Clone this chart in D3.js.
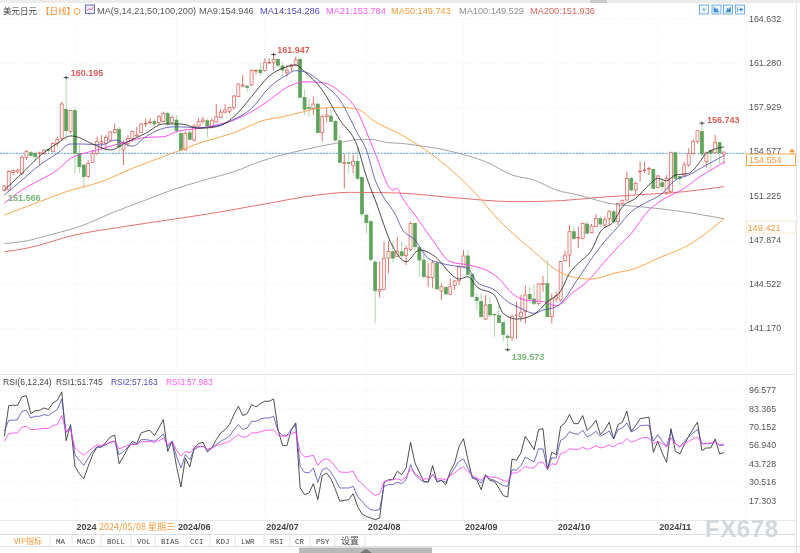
<!DOCTYPE html>
<html>
<head>
<meta charset="utf-8">
<script src="https://cdn.jsdelivr.net/npm/d3@7/dist/d3.min.js"></script>
<style>
  html, body { margin: 0; padding: 0; background: #fff; }
  svg { display: block; font-family: "Liberation Sans", Arial, sans-serif; filter: blur(0.3px); }
  .cjk { font-family: "Noto Sans CJK SC", sans-serif; }
</style>
</head>
<body>
<svg id="chart" width="800" height="553"></svg>
<script>
// daily candles, one entry per trading day
var opens = [151.63,151.68,152.99,153.04,152.89,154.15,154.50,154.45,154.48,154.45,154.76,154.58,155.21,155.59,157.79,156.10,157.69,154.45,153.57,152.69,153.75,154.45,155.21,155.21,155.46,156.02,156.27,154.71,155.21,155.59,155.77,156.02,156.68,156.77,156.86,156.78,156.85,157.48,156.78,156.98,155.97,154.71,156.02,155.46,156.52,156.85,156.93,156.47,156.83,157.18,157.58,157.64,157.94,158.75,159.55,159.55,159.63,160.69,160.77,160.72,161.30,161.32,161.58,161.07,160.56,161.02,161.15,161.58,158.70,157.94,157.86,158.19,156.02,157.23,157.28,156.88,155.41,153.70,153.75,153.55,153.85,152.64,149.78,149.28,146.22,144.02,144.15,146.52,147.00,146.63,147.00,146.70,147.18,149.15,147.33,146.37,145.06,145.06,146.12,144.02,144.28,143.77,144.43,144.80,145.87,146.68,145.29,143.55,143.22,141.90,143.01,142.26,142.16,141.63,140.61,140.49,142.16,142.08,142.46,143.77,143.42,143.09,144.53,144.61,142.08,143.42,143.34,146.32,146.75,148.52,148.04,148.01,149.10,148.44,148.90,149.53,149.03,149.53,150.03,149.28,150.66,150.92,152.56,151.68,153.06,153.14,153.27,153.24,151.88,152.23,151.47,151.55,154.50,152.69,152.81,153.57,154.45,155.34,156.10,153.82,154.66,154.50,155.26,154.40];
var highs = [152.05,153.19,153.24,153.29,154.33,154.71,154.66,154.58,154.58,154.78,154.83,155.28,155.71,158.37,160.195,157.74,157.94,155.09,153.70,153.95,154.71,155.71,155.84,155.84,156.17,156.73,156.47,155.46,155.84,156.17,156.47,156.73,157.11,157.11,157.04,157.36,157.61,157.61,157.36,157.36,156.17,156.10,156.22,156.67,157.11,157.23,157.11,157.11,158.19,157.86,158.19,157.99,158.87,159.76,160.39,159.63,160.82,160.82,161.32,161.65,161.65,161.947,161.65,161.32,161.15,161.22,161.78,161.73,159.30,158.62,158.75,158.24,157.36,157.86,157.86,156.98,155.84,154.45,154.58,154.33,154.96,152.69,149.91,149.40,146.37,146.25,147.76,147.76,147.76,148.14,147.80,147.46,149.28,149.23,147.38,147.26,146.12,146.37,146.25,144.60,144.40,144.98,144.86,146.00,147.13,147.13,145.36,143.85,143.85,143.72,143.60,142.33,142.96,141.70,140.74,142.26,143.22,143.72,144.43,144.35,144.53,144.61,145.16,146.37,143.85,143.97,146.30,147.08,149.02,148.90,148.90,149.20,149.28,149.10,149.86,149.66,149.66,150.16,150.16,150.72,150.97,153.07,152.69,152.31,153.82,153.82,153.44,153.32,152.81,152.56,152.81,154.58,154.58,152.81,153.82,154.83,155.51,156.22,156.743,154.58,154.76,155.84,155.34,154.58];
var lows = [151.57,151.63,152.81,152.94,152.84,153.95,154.15,153.95,153.57,154.35,154.50,154.53,154.96,155.46,155.46,155.97,152.94,152.94,151.80,152.56,153.70,154.33,154.71,154.71,155.34,155.97,154.45,153.57,154.96,155.34,155.71,155.97,156.47,156.68,156.50,156.60,156.78,156.52,156.68,155.97,154.66,154.66,155.46,155.34,156.42,156.72,155.67,156.35,156.78,157.11,157.48,157.48,157.74,158.70,159.45,159.12,159.55,160.46,160.36,160.64,161.22,160.72,161.02,160.31,160.26,160.64,161.07,158.62,157.36,157.23,157.36,155.97,155.34,156.85,156.78,155.34,153.70,151.80,152.94,152.94,152.43,149.66,148.39,146.24,141.57,143.54,144.10,145.36,146.17,146.60,146.40,146.00,147.08,147.00,145.11,144.98,144.35,144.23,144.17,143.34,143.72,143.72,144.10,144.48,145.86,145.24,143.59,142.58,141.95,141.83,142.08,140.56,141.57,140.19,139.573,140.24,140.39,141.70,141.57,143.09,142.96,142.96,143.97,142.00,141.57,143.17,143.22,146.24,145.82,147.89,147.26,147.94,148.34,148.39,148.85,148.90,148.90,149.03,149.15,149.03,150.54,150.87,151.55,151.37,152.31,152.94,152.81,151.73,151.80,151.55,151.30,151.42,152.43,152.05,152.69,153.44,154.33,155.21,154.33,153.38,153.25,154.45,153.65,153.63];
var closes = [151.98,153.07,153.14,153.19,154.15,154.58,154.30,154.20,154.50,154.71,154.66,155.21,155.51,158.19,156.17,157.69,154.45,153.44,152.69,153.70,154.45,155.34,155.34,155.66,156.07,156.27,154.96,155.21,155.59,156.10,155.84,156.68,156.73,156.83,156.68,157.23,157.48,156.68,157.18,156.17,154.71,155.97,155.51,156.52,156.85,156.98,156.52,156.93,157.23,157.58,157.74,157.94,158.80,159.71,159.63,159.45,160.72,160.74,160.56,161.32,161.35,161.58,161.12,160.77,160.72,161.15,161.53,158.70,157.79,157.84,158.19,156.02,157.23,157.36,156.88,155.46,153.75,153.75,153.70,153.85,152.56,149.86,149.20,146.42,144.05,144.15,146.50,147.03,146.52,147.05,146.70,147.26,149.15,147.38,146.37,145.11,145.11,146.17,144.18,144.35,143.80,144.35,144.78,145.87,146.68,145.29,143.60,143.29,142.08,142.96,142.21,142.21,141.63,140.74,140.49,142.08,142.21,142.41,143.72,143.42,143.09,144.56,144.58,142.08,143.42,143.67,146.25,146.75,148.52,148.01,148.09,149.15,148.40,148.95,149.53,149.10,149.45,150.03,149.28,150.66,150.87,152.56,151.68,152.18,153.11,153.19,153.32,151.80,152.74,151.93,152.56,154.50,152.56,152.56,153.57,154.45,155.34,156.17,154.40,154.50,154.45,155.26,154.50,154.554];

// moving averages read at the trading-day indexes next to them
var ma9Days = [0,4,8,12,15,16,20,24,28,32,36,40,44,48,52,56,60,64,66,68,72,76,80,82,84,88,91,94,98,101,103,105,107,111,113,116,120,123,126,128,130,133,135,138,140,143,146,148,150,152,155,157,159,163];
var ma9 = [151.68,152.94,154.25,155.21,155.77,155.74,155.16,154.71,155.34,155.97,156.68,156.68,156.35,156.47,157.23,158.75,160.31,161.02,161.15,160.64,159.25,156.98,154.96,152.69,150.92,147.38,146.25,147.13,146.50,145.36,144.93,145.11,144.35,143.72,142.33,141.90,142.26,143.22,144.02,145.36,146.12,147.13,148.52,149.28,150.41,151.05,152.06,152.56,152.38,152.81,152.94,153.57,154.45,154.946];
var ma14Days = [0,4,8,12,15,18,22,25,29,32,36,39,44,48,52,56,60,64,66,68,72,76,80,82,84,85,89,90,93,96,99,103,105,107,111,114,117,120,122,125,127,129,135,139,142,145,149,152,155,159,163];
var ma14 = [151.30,152.43,153.57,154.45,155.16,155.16,155.09,155.46,155.00,155.71,156.35,156.47,156.40,156.52,157.03,157.86,159.45,160.39,160.72,160.64,159.76,158.49,155.97,154.71,152.43,151.68,149.53,148.77,147.89,146.50,146.12,145.87,145.74,144.73,144.10,143.22,142.71,142.33,142.58,142.84,143.47,144.48,147.38,148.90,150.03,150.66,151.42,152.43,152.81,153.57,154.286];
var ma21Days = [0,4,8,12,15,18,21,25,28,32,36,39,44,48,52,56,60,64,68,72,76,80,82,84,88,89,90,93,97,101,105,109,112,115,118,122,125,129,132,135,139,142,146,149,154,157,160,163];
var ma21 = [150.67,151.68,152.43,153.19,154.07,154.45,154.71,155.09,155.34,155.66,155.71,156.10,156.35,156.60,156.98,157.61,158.49,159.45,159.88,159.81,159.13,157.61,156.10,154.45,151.68,151.80,151.17,149.78,147.89,146.25,146.00,145.62,144.98,143.85,143.34,143.22,142.91,143.97,144.73,145.87,147.38,148.39,150.16,150.92,151.80,152.56,153.19,153.784];
var ma50Days = [0,4,8,14,22,29,39,44,52,59,63,67,71,76,80,84,90,97,106,112,120,125,129,133,138,143,148,155,163];
var ma50 = [149.78,150.29,150.79,151.55,152.31,153.32,154.58,155.21,156.02,156.98,157.23,157.54,157.86,157.94,157.79,156.85,155.84,154.33,151.68,149.40,147.00,145.62,145.06,144.93,145.36,145.74,146.50,147.51,149.50];
var ma100Days = [0,4,11,17,25,32,38,44,52,59,67,75,81,83,87,90,94,98,103,109,115,120,125,130,137,144,151,163];
var ma100 = [147.63,147.76,148.34,148.90,150.03,150.92,151.68,152.31,153.07,153.95,154.66,155.21,155.51,155.51,155.26,155.21,155.03,154.83,154.45,153.82,152.81,152.43,151.68,151.30,150.67,150.41,150.16,149.50];
var ma200Days = [0,5,16,27,38,47,59,71,78,89,101,116,126,134,143,154,163];
var ma200 = [147.00,147.26,148.27,148.90,149.45,149.91,150.62,151.30,151.50,151.45,151.12,150.79,150.87,151.10,151.30,151.55,151.936];

// RSI, one value per trading day
var rsi1 = [63.5,85.5,85.8,85.8,91.8,92.7,79.8,81.9,82.2,83.9,82.7,87.5,89.4,95.4,60.4,71.9,41.9,36.6,33.0,41.9,50.3,55.8,55.8,59.2,63.0,64.4,43.8,49.1,55.1,59.9,58.2,65.9,67.1,67.8,64.0,69.5,75.5,52.7,59.9,41.9,27.0,47.9,41.4,55.1,58.2,59.2,52.2,55.1,61.1,65.9,68.3,71.9,79.1,85.1,78.4,79.8,86.3,84.6,87.0,88.7,88.7,90.3,68.3,56.8,56.8,68.3,73.1,26.3,21.5,22.7,29.4,17.9,35.2,37.1,32.8,25.1,16.7,17.4,17.9,22.2,13.1,7.6,5.9,4.7,3.5,4.7,29.9,32.3,32.3,38.3,35.9,40.7,59.2,44.3,37.6,31.1,30.6,42.4,30.6,31.8,28.7,38.3,44.3,56.3,61.8,46.7,33.5,32.3,25.1,35.9,31.6,31.1,26.3,20.8,19.8,47.2,46.2,51.5,63.5,58.7,53.9,68.3,69.0,39.5,52.0,50.3,70.7,73.1,79.1,72.6,72.6,78.4,67.8,70.7,75.0,64.7,68.3,73.6,61.6,71.9,73.6,81.5,67.1,71.2,76.2,76.7,77.2,52.0,59.9,51.5,44.8,69.0,52.7,50.8,57.5,63.5,68.8,73.6,53.2,55.1,55.1,61.6,50.8,51.745];
var rsi2 = [67.1,75.0,75.0,75.5,81.5,82.2,76.7,77.9,77.9,79.1,78.4,80.8,82.7,90.3,66.4,70.7,50.3,46.2,42.6,47.9,52.7,55.8,55.8,57.5,59.2,59.9,50.3,52.7,55.8,58.2,57.5,61.1,61.1,60.6,59.9,62.3,65.2,55.8,59.9,49.1,40.7,50.3,46.7,53.9,55.8,56.3,53.4,55.1,57.5,59.9,61.6,63.5,68.3,71.9,68.3,69.5,74.3,74.3,75.9,76.7,76.7,77.9,67.1,64.2,64.2,68.3,71.9,41.9,37.6,37.1,40.7,30.4,39.5,40.7,37.6,32.3,26.3,26.3,26.3,27.5,20.3,16.7,13.1,10.7,10.2,10.7,27.5,28.7,28.7,30.4,29.4,32.3,43.1,35.9,32.8,30.6,30.6,36.4,31.1,31.8,30.4,35.9,40.7,45.5,47.2,40.7,34.2,32.8,29.9,34.7,32.8,31.8,29.9,28.0,27.5,39.5,39.0,42.4,48.6,46.7,45.3,54.4,54.4,40.0,47.9,47.9,60.6,62.3,66.8,65.4,64.9,67.8,63.0,64.7,67.1,63.5,65.2,67.3,61.6,68.3,69.5,73.1,66.6,68.3,71.2,71.4,71.4,59.9,64.7,59.9,56.3,67.1,58.2,55.8,59.9,63.0,65.9,68.3,58.2,58.2,58.2,59.9,56.8,57.163];
var rsi3 = [59.9,65.4,65.9,65.9,70.2,70.7,68.3,68.5,68.8,69.2,69.0,71.2,71.9,78.4,66.4,68.3,55.1,52.2,49.8,52.7,55.1,57.3,57.0,58.0,59.2,60.1,54.4,55.8,57.0,57.7,57.7,59.6,59.6,59.6,59.2,60.4,62.0,57.5,59.9,53.4,49.1,52.7,51.5,55.1,56.3,56.3,54.4,55.1,56.8,57.7,58.7,59.9,62.3,64.7,62.8,63.3,65.9,65.9,66.8,67.8,67.8,68.3,64.2,63.5,63.7,65.4,66.4,52.0,48.6,49.1,49.8,42.6,46.2,47.4,45.5,41.4,37.8,37.6,37.6,38.3,32.3,29.4,26.3,23.2,21.0,22.2,31.1,31.6,32.3,33.0,31.8,34.2,40.0,36.6,34.2,32.8,32.8,35.9,32.8,33.0,32.3,35.2,37.1,40.0,41.4,38.3,35.2,33.5,31.8,35.2,34.2,34.2,33.3,31.8,30.9,37.1,37.1,39.0,41.9,40.7,40.7,44.8,44.8,40.0,43.8,43.1,51.0,52.0,54.6,54.1,54.1,55.6,54.1,55.1,56.8,55.1,55.8,57.3,55.8,58.2,58.7,61.8,59.2,60.4,61.8,62.8,62.3,58.2,59.9,58.2,55.8,62.3,58.2,55.8,58.2,59.9,61.6,63.0,58.2,58.2,58.7,59.4,57.3,57.983];

var priceTicks = [164.632,161.280,157.929,154.577,151.225,147.874,144.522,141.170];
var rsiTicks = [96.577,83.365,70.152,56.940,43.728,30.516,17.303];
var lastPriceLine = 154.455;
var monthDays = [16,39,59,82,104,125,148];
var monthLabels = ["2024","2024/06","2024/07","2024/08","2024/09","2024/10","2024/11"];
var tabLabels = ["VIP指标","MA","MACD","BOLL","VOL","BIAS","CCI","KDJ","LWR","RSI","CR","PSY","设置"];
var tabStarts = [14,56,77,107,137,161,190,216,241,270,295,316,341];
var tabEdges = [50,72,101,131,155,186,210,235,264,290,310,335,365];

var RED = "#d9645c", GREEN = "#5fa35a", PALE_GREEN = "#a9d0a5";

var svg = d3.select("#chart");
var x = d3.scaleLinear().domain([0, opens.length - 1]).range([4.33, 724]);
var y = d3.scaleLinear().domain([164.632, 141.17]).range([19, 328.7]);
var yRsi = d3.scaleLinear().domain([96.577, 17.303]).range([390.3, 500.5]);

// top strip
svg.append("rect").attr("x", 0).attr("y", 0).attr("width", 800).attr("height", 3).attr("fill", "#ececec");
svg.append("rect").attr("x", 590).attr("y", 0).attr("width", 17).attr("height", 3).attr("fill", "#c9c9c9");

// grid
function hGrid(ticks, scale) {
  svg.append("g").selectAll("line").data(ticks).enter().append("line")
    .attr("x1", 0).attr("x2", 746)
    .attr("y1", function(d) { return scale(d); })
    .attr("y2", function(d) { return scale(d); })
    .attr("stroke", "#e8e8e8").attr("stroke-width", 0.7).attr("stroke-dasharray", "1,2");
}
hGrid(priceTicks, y);
hGrid(rsiTicks, yRsi);

svg.append("g").selectAll("line").data(monthDays).enter().append("line")
  .attr("x1", function(d) { return x(d); })
  .attr("x2", function(d) { return x(d); })
  .attr("y1", 16).attr("y2", 520)
  .attr("stroke", "#e8e8e8").attr("stroke-width", 0.7).attr("stroke-dasharray", "1,2");

svg.append("line").attr("x1", 746).attr("x2", 746).attr("y1", 16).attr("y2", 520)
  .attr("stroke", "#dddddd").attr("stroke-width", 0.7).attr("stroke-dasharray", "1,2");
svg.append("line").attr("x1", 0).attr("x2", 796).attr("y1", 374.5).attr("y2", 374.5)
  .attr("stroke", "#e3e8ee").attr("stroke-width", 1);
svg.append("line").attr("x1", 0).attr("x2", 796).attr("y1", 520.5).attr("y2", 520.5)
  .attr("stroke", "#e3e8ee").attr("stroke-width", 1);
svg.append("line").attr("x1", 796.5).attr("x2", 796.5).attr("y1", 3).attr("y2", 553)
  .attr("stroke", "#e3e8ee").attr("stroke-width", 1);

// last price line
svg.append("line").attr("x1", 0).attr("x2", 746).attr("y1", y(lastPriceLine)).attr("y2", y(lastPriceLine))
  .attr("stroke", "#3f94ea").attr("stroke-width", 0.9).attr("stroke-dasharray", "2,1.2");

// candles
var days = d3.range(opens.length);
var candles = svg.append("g").selectAll("g").data(days).enter().append("g");

candles.append("line")
  .attr("x1", function(i) { return x(i); })
  .attr("x2", function(i) { return x(i); })
  .attr("y1", function(i) { return y(highs[i]); })
  .attr("y2", function(i) { return y(lows[i]); })
  .attr("stroke", function(i) { return closes[i] >= opens[i] ? RED : PALE_GREEN; })
  .attr("stroke-width", 0.9);

candles.append("rect")
  .attr("x", function(i) { return x(i) - 1.5; })
  .attr("width", 3)
  .attr("y", function(i) { return y(Math.max(opens[i], closes[i])); })
  .attr("height", function(i) { return Math.max(0.6, Math.abs(y(opens[i]) - y(closes[i]))); })
  .attr("fill", function(i) { return closes[i] >= opens[i] ? "#fdf3f2" : GREEN; })
  .attr("stroke", function(i) { return closes[i] >= opens[i] ? RED : GREEN; })
  .attr("stroke-width", 0.7);

// moving averages
function drawLine(days, values, color, width) {
  var path = d3.line()
    .x(function(d, n) { return x(days[n]); })
    .y(function(d) { return y(d); })
    .curve(d3.curveMonotoneX);
  svg.append("path").attr("d", path(values))
    .attr("fill", "none").attr("stroke", color).attr("stroke-width", width);
}
drawLine(ma200Days, ma200, "#e0625c", 0.9);
drawLine(ma100Days, ma100, "#9a9a9a", 0.9);
drawLine(ma50Days, ma50, "#ff9c3a", 0.9);
drawLine(ma21Days, ma21, "#ff3df0", 0.9);
drawLine(ma14Days, ma14, "#4747b5", 0.8);
drawLine(ma9Days, ma9, "#222222", 0.8);

// RSI lines
function drawRsi(values, color) {
  var path = d3.line()
    .x(function(d, n) { return x(n); })
    .y(function(d) { return yRsi(d); });
  svg.append("path").attr("d", path(values))
    .attr("fill", "none").attr("stroke", color).attr("stroke-width", 0.8);
}
drawRsi(rsi1, "#222222");
drawRsi(rsi2, "#4a4ab8");
drawRsi(rsi3, "#ff3df0");

// axes
function styleAxis(g, color, size, weight) {
  g.select(".domain").remove();
  g.selectAll(".tick line").remove();
  g.selectAll("text").attr("fill", color).style("font-size", size + "px")
    .style("font-weight", weight || "normal")
    .style("font-family", "\"Liberation Sans\", Arial, sans-serif");
}
var priceAxis = d3.axisRight(y).tickValues(priceTicks).tickSize(0).tickPadding(0).tickFormat(d3.format(".3f"));
svg.append("g").attr("transform", "translate(749,-0.7)").call(priceAxis).call(styleAxis, "#555", 8.9);
var rsiAxis = d3.axisRight(yRsi).tickValues(rsiTicks).tickSize(0).tickPadding(0).tickFormat(d3.format(".3f"));
svg.append("g").attr("transform", "translate(749,-0.3)").call(rsiAxis).call(styleAxis, "#555", 8.9);

var timeAxis = d3.axisBottom(x).tickValues(monthDays).tickSize(0)
  .tickFormat(function(d, n) { return monthLabels[n]; });
svg.append("g").attr("transform", "translate(0,521)").call(timeAxis).call(styleAxis, "#444", 9, "bold")
  .selectAll("text").attr("text-anchor", "start").attr("dx", 1).attr("y", 2.2).attr("dy", "0.71em");

// text helper
function label(px, py, str, color, opts) {
  opts = opts || {};
  var t = svg.append("text").attr("x", px).attr("y", py).text(str).attr("fill", color)
    .style("font-size", (opts.size || 9.2) + "px");
  if (opts.bold) t.style("font-weight", "bold");
  if (opts.cjk) t.attr("class", "cjk");
  if (opts.mono) t.style("font-family", "\"Liberation Mono\", monospace");
  return t;
}

// crosshair date
svg.append("rect").attr("x", 97).attr("y", 521).attr("width", 80).attr("height", 11).attr("fill", "#fff");
label(99, 529.5, "2024/05/08 星期三", "#f59a3c", { size: 9, cjk: true });

// legends
label(3, 14, "美元日元", "#444", { size: 8.5, cjk: true });
label(41, 14, "【日线】", "#f08c2e", { size: 8.5, cjk: true });
svg.append("circle").attr("cx", 77).attr("cy", 11.5).attr("r", 3).attr("fill", "#fff").attr("stroke", "#f0a040").attr("stroke-width", 1);
svg.append("rect").attr("x", 85.5).attr("y", 5).attr("width", 9).attr("height", 8.5).attr("fill", "#eef").attr("stroke", "#5560b0").attr("stroke-width", 0.9);
svg.append("path").attr("d", d3.line()([[87, 11], [89, 8.5], [91, 10], [93.5, 7]])).attr("fill", "none").attr("stroke", "#e0508a").attr("stroke-width", 0.9);
label(97, 14, "MA(9,14,21,50,100,200)", "#555");
label(199, 14, "MA9:154.946", "#555");
label(260, 14, "MA14:154.286", "#4a4ab8");
label(326, 14, "MA21:153.784", "#ff5cf0");
label(391, 14, "MA50:149.743", "#ff9c3a");
label(459, 14, "MA100:149.529", "#909090");
label(530, 14, "MA200:151.936", "#e0625c");
label(3, 385, "RSI(6,12,24)", "#444", { size: 8.6 });
label(56, 385, "RSI1:51.745", "#444", { size: 8.4 });
label(111, 385, "RSI2:57.163", "#4a4ab8", { size: 8.4 });
label(166, 385, "RSI3:57.983", "#ff5cf0", { size: 8.4 });

// zoom buttons
var buttonIcons = ["M3,4.5h3M4.5,3v3", "M2,2v5h5M5.5,3.5l-2,1.5l2,1.5z", "M7,2v5h-5M3.5,3.5l2,1.5l-2,1.5z", "M2,2v5M3,4.5h2.5M5,3l2.2,1.5l-2.2,1.5z"];
var buttons = svg.append("g").selectAll("g").data([699.5, 712, 723.5, 735.5]).enter().append("g")
  .attr("transform", function(d) { return "translate(" + d + ",5)"; });
buttons.append("rect").attr("width", 9).attr("height", 9)
  .attr("fill", "#eef6fc").attr("stroke", "#4f9ee8").attr("stroke-width", 0.8);
buttons.append("path").attr("d", function(d, n) { return buttonIcons[n]; })
  .attr("fill", "#3f8fd8").attr("stroke", "#3f8fd8").attr("stroke-width", 0.7);

// high and low notes
function extreme(day, value, dx, dy, color) {
  svg.append("path")
    .attr("d", "M" + (x(day) - 2.5) + "," + y(value) + "H" + (x(day) + 2.5) + "M" + x(day) + "," + (y(value) - 1.5) + "V" + (y(value) + 1.5))
    .attr("stroke", "#222").attr("stroke-width", 0.8).attr("fill", "none");
  label(x(day) + dx, y(value) + dy, d3.format(".3f")(value), color, { bold: true, size: 9 });
}
extreme(14, 160.195, 4.5, -2, "#d9605c");
extreme(61, 161.947, 3.5, -1.5, "#d9605c");
extreme(158, 156.743, 5, 0, "#d9605c");
extreme(114, 139.573, 4, 10.5, "#79b878");
label(8, 201, "151.566", "#79b878", { bold: true, size: 9 });

// price boxes
svg.append("rect").attr("x", 746.5).attr("y", 154).attr("width", 49).attr("height", 11.5)
  .attr("fill", "#fff").attr("stroke", "#f5a04a").attr("stroke-width", 0.9);
label(749, 163, "154.554", "#f59a3c", { size: 9 });
svg.append("path").attr("d", "M789,152h6l-3,-3.5zM790,152.8h4v1h-4z").attr("fill", "#f59a3c");
svg.append("rect").attr("x", 746.5).attr("y", 221).attr("width", 49).attr("height", 12)
  .attr("fill", "#fff").attr("stroke", "#fbe3cc").attr("stroke-width", 0.8);
label(747.5, 230.5, "149.421", "#f59a3c", { size: 9.2 });

// tab row
svg.append("line").attr("x1", 0).attr("x2", 796).attr("y1", 534.5).attr("y2", 534.5).attr("stroke", "#d8dee6").attr("stroke-width", 1);
svg.append("g").selectAll("line").data(tabEdges).enter().append("line")
  .attr("x1", function(d) { return d; })
  .attr("x2", function(d) { return d; })
  .attr("y1", 535).attr("y2", 546)
  .attr("stroke", "#e0e0e0").attr("stroke-width", 0.8);
tabLabels.forEach(function(name, n) {
  var isCjk = /[\u4e00-\u9fff]/.test(name);
  if (n === 0) {
    label(tabStarts[n], 543.5, name, "#f59a3c", { size: 8, cjk: true });
  } else if (isCjk) {
    label(tabStarts[n], 544, name, "#444", { size: 9, cjk: true });
  } else {
    label(tabStarts[n], 543.5, name, "#444", { size: 7.5, mono: true });
  }
});
svg.append("line").attr("x1", 0).attr("x2", 800).attr("y1", 546.5).attr("y2", 546.5).attr("stroke", "#dfe4ea").attr("stroke-width", 1);
svg.append("rect").attr("x", 299).attr("y", 547.5).attr("width", 133).attr("height", 5.5).attr("fill", "#b9b9b9");
svg.append("path").attr("d", "M360,553l6,-4l6,4z").attr("fill", "#777");

// watermark
label(705, 537, "FX678", "#d3d8dc", { bold: true, size: 24 }).style("letter-spacing", "0.6px");
</script>
</body>
</html>
